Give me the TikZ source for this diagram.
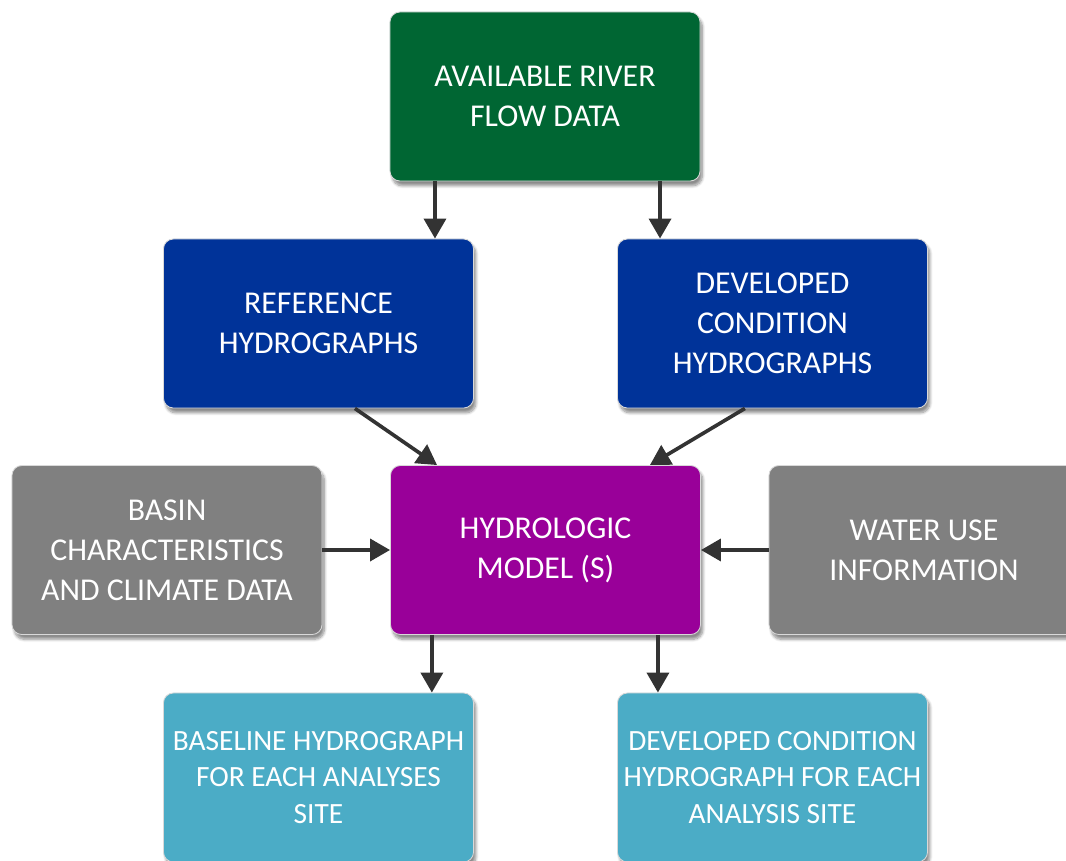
\documentclass[tikz,border=0pt]{standalone}
\usepackage{fontspec}
\setmainfont{Carlito}
\usepackage{xcolor}
\usetikzlibrary{arrows.meta,shadows.blur}

\definecolor{flowgreen}{HTML}{006633}
\definecolor{hydroblue}{HTML}{003399}
\definecolor{modelpurple}{HTML}{990099}
\definecolor{inputgray}{HTML}{808080}
\definecolor{siteblue}{HTML}{4BACC6}
\definecolor{arrowgray}{HTML}{333333}

\tikzset{
  box/.style={rectangle, rounded corners=0.25cm, draw=white!85!black, line width=0.6pt,
    minimum width=7.75cm, minimum height=4.225cm, inner sep=0pt, align=center,
    text=white, font=\fontsize{22.6}{28.5}\selectfont,
    blur shadow={shadow xshift=0.06cm, shadow yshift=-0.12cm, shadow blur steps=8, shadow opacity=45}},
  sitebox/.style={box, fill=siteblue, font=\fontsize{20.9}{26}\selectfont},
  link/.style={draw=arrowgray, line width=2.6pt, -{Triangle[length=0.5cm,width=0.55cm]}}
}

\begin{document}
\begin{tikzpicture}[x=0.025cm,y=-0.025cm]
\useasboundingbox (0,0) rectangle (1066,861);

\node[box, fill=flowgreen] (flow) at (545,96.5) {AVAILABLE RIVER\\FLOW DATA};
\node[box, fill=hydroblue] (ref) at (318.5,323.5) {REFERENCE\\HYDROGRAPHS};
\node[box, fill=hydroblue] (dev) at (772.5,323.5) {DEVELOPED\\CONDITION\\HYDROGRAPHS};
\node[box, fill=inputgray] (basin) at (167,550) {BASIN\\CHARACTERISTICS\\AND CLIMATE DATA};
\node[box, fill=modelpurple] (model) at (545.5,550) {HYDROLOGIC\\MODEL (S)};
\node[box, fill=inputgray] (water) at (924,550) {WATER USE\\INFORMATION};
\node[sitebox] (base) at (318.5,777.5) {BASELINE HYDROGRAPH\\FOR EACH ANALYSES\\SITE};
\node[sitebox] (devsite) at (772.5,777.5) {DEVELOPED CONDITION\\HYDROGRAPH FOR EACH\\ANALYSIS SITE};

\draw[link] ([xshift=-2.75cm]flow.south) -- ([xshift=-2.75cm]flow.south |- ref.north);
\draw[link] ([xshift=2.875cm]flow.south) -- ([xshift=2.875cm]flow.south |- dev.north);
\draw[link] ([xshift=0.91cm]ref.south) -- ([xshift=-2.71cm]model.north);
\draw[link] ([xshift=-0.69cm]dev.south) -- ([xshift=2.61cm]model.north);
\draw[link] (basin.east) -- (model.west);
\draw[link] (water.west) -- (model.east);
\draw[link] ([xshift=-2.84cm]model.south) -- ([xshift=-2.84cm]model.south |- base.north);
\draw[link] ([xshift=2.81cm]model.south) -- ([xshift=2.81cm]model.south |- devsite.north);
\end{tikzpicture}
\end{document}
